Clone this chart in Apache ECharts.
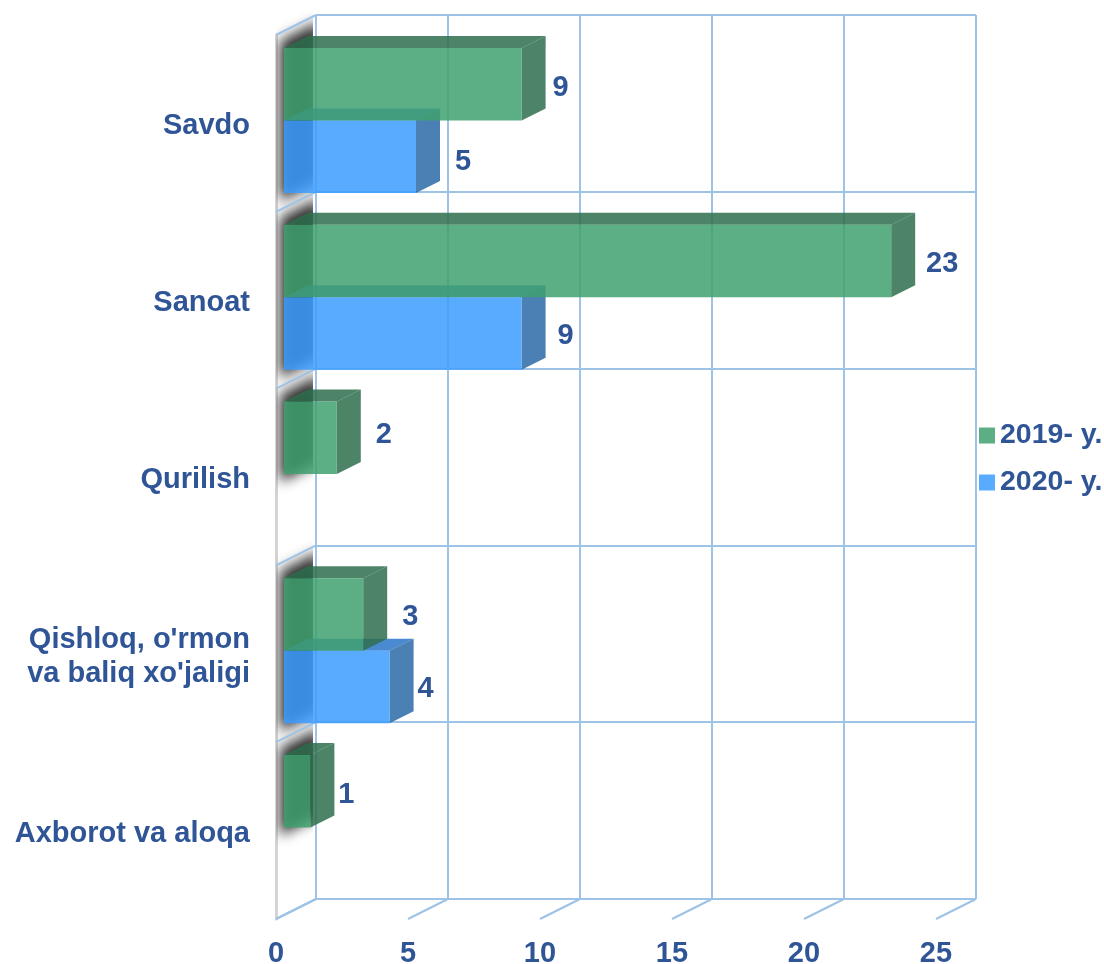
<!DOCTYPE html>
<html>
<head>
<meta charset="utf-8">
<style>html,body{margin:0;padding:0;background:#fff}#c{width:1104px;height:964px}</style>
<script src="https://cdn.jsdelivr.net/npm/echarts@6/dist/echarts.min.js"></script>
</head>
<body>
<div id="c"></div>
<script>
const categories = ['Savdo', 'Sanoat', 'Qurilish', "Qishloq, o'rmon\nva baliq xo'jaligi", 'Axborot va aloqa'];
const values2019 = [9, 23, 2, 3, 1];
const values2020 = [5, 9, null, 4, null];
const xTicks = [0, 5, 10, 15, 20, 25];

const TEXT = '#2F5597', LINE = '#9DC3E6', FONT = '"Liberation Sans", Arial, sans-serif';
const FS = 29;
const BAR_DX = 8, DEPTH_X = 24, DEPTH_Y = 12, WALL_X = 40, WALL_Y = 20;
const labelDx = [[39, 51, 47, 47, 36], [47, 44, 0, 36, 0]];
const labelDy = [[4, 3, -3, 2, 4], [5, 3, 0, 2, 0]];
const palette = [
  {front: '#40A06F', top: '#2E6E4E', side: '#2E6E4E'},
  {front: '#3B9CFF', top: '#2A75C8', side: '#2C6AA7'}
];

function slotBounds(api, cat) {
  const p = api.coord([0, cat]);
  const band = api.size([0, 1])[1];
  const h = band * 0.41;
  return {x: p[0] + BAR_DX, mid: p[1] - 3, h: h};
}

function barItem(slot) {
  return function (params, api) {
    const cat = api.value(1), v = api.value(0);
    const b = slotBounds(api, cat);
    const x0 = b.x, x1 = api.coord([v, cat])[0] + BAR_DX;
    const y0 = slot === 0 ? b.mid - b.h : b.mid, y1 = y0 + b.h;
    const c = palette[slot];
    const op = {opacity: 0.85};
    return {
      type: 'group',
      children: [
        {type: 'polygon', shape: {points: [[x0, y0], [x0 + DEPTH_X, y0 - DEPTH_Y], [x1 + DEPTH_X, y0 - DEPTH_Y], [x1, y0]]},
          style: Object.assign({fill: c.top}, op)},
        {type: 'polygon', shape: {points: [[x1, y0], [x1 + DEPTH_X, y0 - DEPTH_Y], [x1 + DEPTH_X, y1 - DEPTH_Y], [x1, y1]]},
          style: Object.assign({fill: c.side}, op)},
        {type: 'rect', shape: {x: x0, y: y0, width: x1 - x0, height: y1 - y0},
          style: Object.assign({fill: c.front}, op)},
        {type: 'text', z2: 50, style: {text: String(v), x: x1 + labelDx[slot][cat], y: (y0 + y1) / 2 + labelDy[slot][cat],
          align: 'center', verticalAlign: 'middle', fill: TEXT, font: 'bold ' + FS + 'px ' + FONT}}
      ]
    };
  };
}

function shadowItem(params, api) {
  const cat = api.value(0);
  const b = slotBounds(api, cat);
  const top = b.mid - b.h;
  const bottom = values2020[cat] == null ? b.mid : b.mid + b.h;
  const off = 3000;
  const x0 = b.x - 4, x1 = b.x + DEPTH_X + 12;
  return {
    type: 'polygon',
    shape: {points: [[x0 - off, top - 7], [x1 - off, top - 27], [x1 - off, bottom - 12], [x0 - off, bottom + 8]]},
    style: {fill: '#333', shadowBlur: 13, shadowColor: '#303030', shadowOffsetX: off},
    clipPath: {type: 'rect', shape: {x: b.x - 8, y: 0, width: 37, height: 964}}
  };
}

function diagonalItem(params, api) {
  const i = api.value(0);
  const p = api.coord([0, 0]);
  const band = api.size([0, 1])[1];
  const y = p[1] - band / 2 + i * band;
  return {
    type: 'line',
    shape: {x1: p[0], y1: y, x2: p[0] + WALL_X, y2: y - WALL_Y},
    style: {stroke: LINE, lineWidth: 2}
  };
}

function floorItem(params, api) {
  const p = api.coord([api.value(0), 0]);
  const band = api.size([0, 1])[1];
  const y = p[1] - band / 2 + categories.length * band;
  return {
    type: 'line',
    shape: {x1: p[0], y1: y, x2: p[0] + WALL_X, y2: y - WALL_Y},
    style: {stroke: LINE, lineWidth: 2}
  };
}

const chart = echarts.init(document.getElementById('c'), null, {renderer: 'canvas'});
chart.setOption({
  animation: false,
  backgroundColor: '#fff',
  textStyle: {fontFamily: FONT},
  legend: {
    data: ['2019- y.', '2020- y.'],
    orient: 'vertical', left: 979, top: 421,
    itemWidth: 16, itemHeight: 16, itemGap: 18,
    padding: 0,
    icon: 'rect',
    textStyle: {color: TEXT, fontSize: 28.5, fontWeight: 'bold', fontFamily: FONT}
  },
  grid: [
    {left: 276, top: 35, width: 660, height: 884, outerBoundsMode: 'none'},
    {left: 316, top: 15, width: 660, height: 884, outerBoundsMode: 'none'},
    {left: 276, top: 38, width: 660, height: 884, outerBoundsMode: 'none'}
  ],
  xAxis: [
    {gridIndex: 0, type: 'value', min: 0, max: 25, interval: 5,
      axisLine: {show: false}, axisTick: {show: false}, splitLine: {show: false},
      axisLabel: {color: TEXT, fontSize: FS, fontWeight: 'bold', fontFamily: FONT, margin: 20, hideOverlap: false}},
    {gridIndex: 1, type: 'value', min: 0, max: 25, interval: 5,
      axisLine: {show: false}, axisTick: {show: false}, axisLabel: {show: false},
      splitLine: {show: true, lineStyle: {color: LINE, width: 2}}},
    {gridIndex: 2, type: 'value', min: 0, max: 25, interval: 5, show: false}
  ],
  yAxis: [
    {gridIndex: 0, type: 'category', inverse: true, data: categories,
      axisLine: {show: true, lineStyle: {color: '#D4D4D4', width: 3}}, axisTick: {show: false}, splitLine: {show: false},
      axisLabel: {show: false}},
    {gridIndex: 1, type: 'category', inverse: true, data: categories,
      axisLine: {show: false}, axisTick: {show: false}, axisLabel: {show: false},
      splitLine: {show: true, interval: 0, lineStyle: {color: LINE, width: 2}}},
    {gridIndex: 2, type: 'category', inverse: true, data: categories,
      axisLine: {show: false}, axisTick: {show: false}, splitLine: {show: false},
      axisLabel: {color: TEXT, fontSize: FS, fontWeight: 'bold', fontFamily: FONT, margin: 26, lineHeight: 34, interval: 0, align: 'right'}}
  ],
  series: [
    {type: 'custom', name: 'wallShadow', xAxisIndex: 0, yAxisIndex: 0, z: 1, silent: true, clip: false,
      data: categories.map((c, i) => [i]), encode: {y: 0}, renderItem: shadowItem},
    {type: 'custom', name: 'wallEdges', xAxisIndex: 0, yAxisIndex: 0, z: 2, silent: true, clip: false,
      data: categories.concat(['']).map((c, i) => [i]), renderItem: diagonalItem},
    {type: 'custom', name: 'floorEdges', xAxisIndex: 0, yAxisIndex: 0, z: 2, silent: true, clip: false,
      data: xTicks.map(t => [t]), renderItem: floorItem},
    {type: 'custom', name: '2020- y.', xAxisIndex: 0, yAxisIndex: 0, z: 3, clip: false,
      itemStyle: {color: '#58ABFF'},
      data: values2020.map((v, i) => [v, i]).filter(d => d[0] != null),
      encode: {x: 0, y: 1}, renderItem: barItem(1)},
    {type: 'custom', name: '2019- y.', xAxisIndex: 0, yAxisIndex: 0, z: 4, clip: false,
      itemStyle: {color: '#5DAE85'},
      data: values2019.map((v, i) => [v, i]),
      encode: {x: 0, y: 1}, renderItem: barItem(0)}
  ]
});
</script>
</body>
</html>
